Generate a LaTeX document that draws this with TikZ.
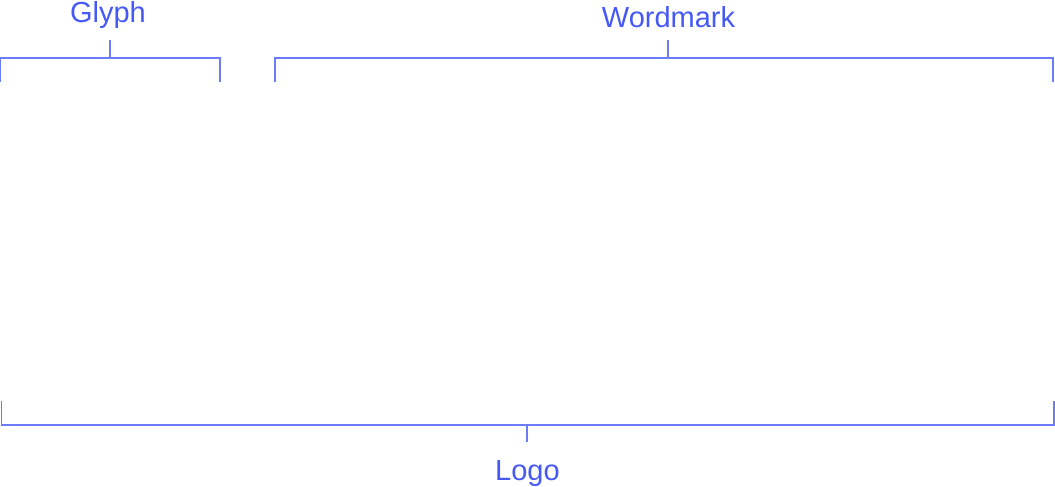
\documentclass[tikz,border=0pt]{standalone}
\usepackage{fontspec}
\setmainfont{Liberation Sans}
\definecolor{txtblue}{HTML}{4659F6}
\definecolor{lineblue}{HTML}{6B7CF6}
\begin{document}
\begin{tikzpicture}[x=1pt,y=-1pt,
  brk/.style={draw=lineblue,line width=1.3pt},
  lbl/.style={text=txtblue,font=\fontsize{29}{34}\selectfont,anchor=base,inner sep=0pt}]
\useasboundingbox (0,0) rectangle (1055,487);
% Glyph
\coordinate (g1) at (0.8,82); \coordinate (g2) at (0.8,58);
\coordinate (g3) at (220,58); \coordinate (g4) at (220,82);
\coordinate (gs) at (110,58); \coordinate (gt) at (110,40);
\draw[brk] (g1) -- (g2) -- (g3) -- (g4);
\draw[brk] (gs) -- (gt);
\node[lbl] (glyph) at (108,22.5) {Glyph};
% Wordmark
\coordinate (w1) at (275,82); \coordinate (w2) at (275,58);
\coordinate (w3) at (1053,58); \coordinate (w4) at (1053,82);
\coordinate (ws) at (668,58); \coordinate (wt) at (668,40);
\draw[brk] (w1) -- (w2) -- (w3) -- (w4);
\draw[brk] (ws) -- (wt);
\node[lbl] (wordmark) at (668.5,27.5) {Wordmark};
% Logo
\coordinate (l1) at (1.8,401); \coordinate (l2) at (1.8,425);
\coordinate (l3) at (1054,425); \coordinate (l4) at (1054,401);
\coordinate (ls) at (527,425); \coordinate (lt) at (527,442);
\draw[brk] (l1) -- (l2) -- (l3) -- (l4);
\draw[brk] (ls) -- (lt);
\node[lbl] (logo) at (527.5,480.5) {Logo};
\end{tikzpicture}
\end{document}
